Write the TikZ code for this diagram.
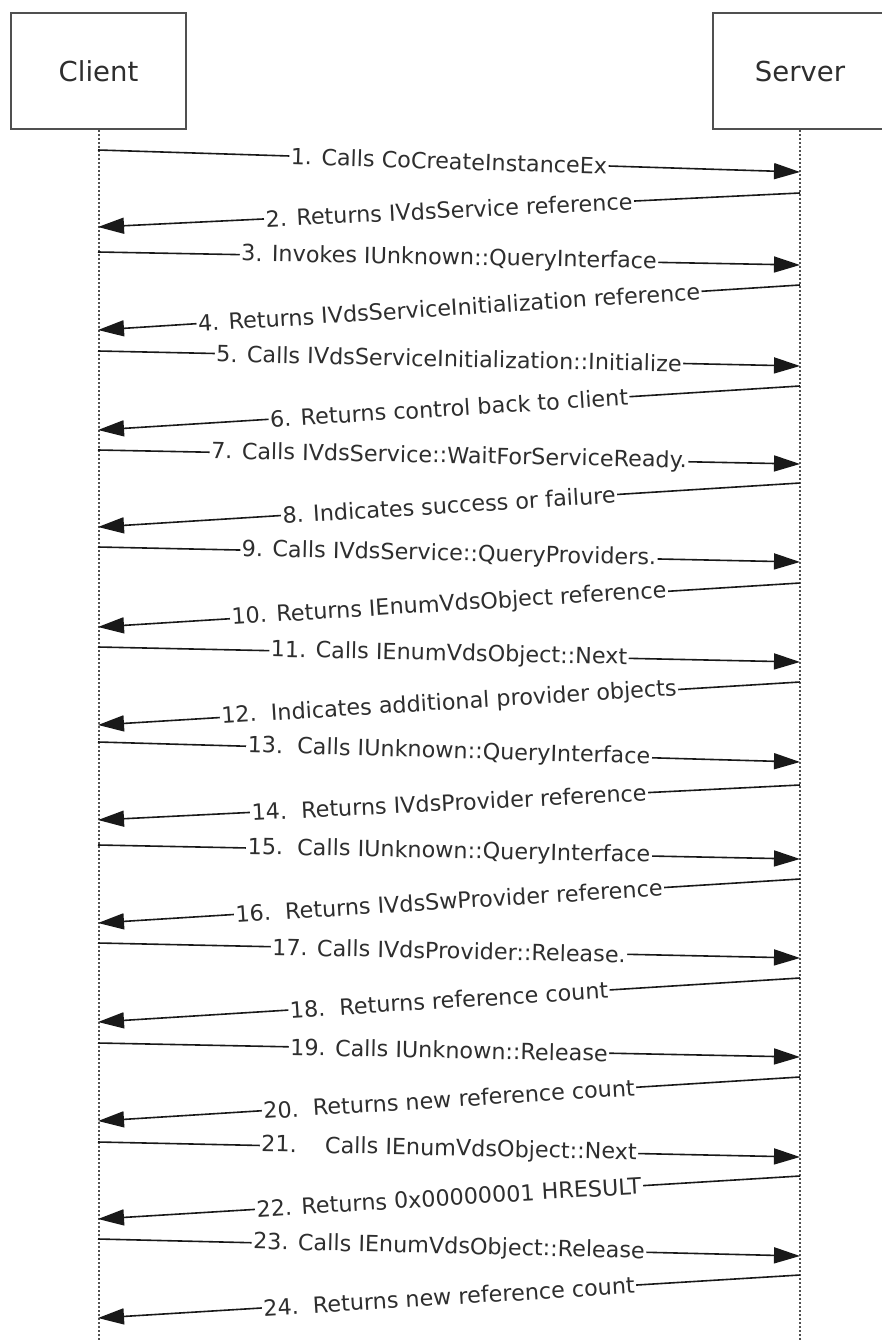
\documentclass[tikz,border=0pt]{standalone}
\usepackage{fontspec}
\setmainfont{DejaVu Sans}
\usetikzlibrary{arrows.meta}
\definecolor{boxgray}{HTML}{505050}
\definecolor{txtgray}{HTML}{2E2E2E}

\begin{document}
\begin{tikzpicture}
[
x=1pt, y=-1pt,
actor/.style={draw=boxgray,line width=2pt,minimum width=175pt,minimum height=116pt,inner sep=0pt,
              text=txtgray,font=\fontsize{27.5}{32}\selectfont},
lifeline/.style={draw=boxgray,line width=2pt,dash pattern=on 2pt off 2pt},
msg/.style={draw=black!90,line width=1.6pt,-{Triangle[length=26pt,width=16pt]}},
lbl/.style={sloped,fill=white,inner sep=1.5pt,text=txtgray,font=\fontsize{22.3}{26}\selectfont},
]
\useasboundingbox (0,0) rectangle (882,1340);
\clip (0,0) rectangle (882,1340);

%Place the participants
\node[actor] (client) at (98.5,71) {Client};
\node[actor] (server) at (800,71) {Server};
\coordinate (cend) at (98.5,1340);
\coordinate (send) at (800,1340);
\draw[lifeline] (client.south) -- (cend);
\draw[lifeline] (server.south) -- (send);

%Place the end points on the lifelines
\coordinate (c1) at (98,150);   \coordinate (s1) at (800,172);
\coordinate (c2) at (98,227);   \coordinate (s2) at (800,193);
\coordinate (c3) at (98,252);   \coordinate (s3) at (800,265);
\coordinate (c4) at (98,330);   \coordinate (s4) at (800,285);
\coordinate (c5) at (98,351);   \coordinate (s5) at (800,366);
\coordinate (c6) at (98,430);   \coordinate (s6) at (800,386);
\coordinate (c7) at (98,450);   \coordinate (s7) at (800,464);
\coordinate (c8) at (98,527);   \coordinate (s8) at (800,483);
\coordinate (c9) at (98,547);   \coordinate (s9) at (800,562);
\coordinate (c10) at (98,627);  \coordinate (s10) at (800,583);
\coordinate (c11) at (98,647);  \coordinate (s11) at (800,662);
\coordinate (c12) at (98,725);  \coordinate (s12) at (800,682);
\coordinate (c13) at (98,742);  \coordinate (s13) at (800,762);
\coordinate (c14) at (98,820);  \coordinate (s14) at (800,785);
\coordinate (c15) at (98,845);  \coordinate (s15) at (800,859);
\coordinate (c16) at (98,923);  \coordinate (s16) at (800,879);
\coordinate (c17) at (98,943);  \coordinate (s17) at (800,958);
\coordinate (c18) at (98,1022); \coordinate (s18) at (800,978);
\coordinate (c19) at (98,1043); \coordinate (s19) at (800,1057);
\coordinate (c20) at (98,1121); \coordinate (s20) at (800,1077);
\coordinate (c21) at (98,1142); \coordinate (s21) at (800,1157);
\coordinate (c22) at (98,1219); \coordinate (s22) at (800,1176);
\coordinate (c23) at (98,1239); \coordinate (s23) at (800,1256);
\coordinate (c24) at (98,1318); \coordinate (s24) at (800,1275);

%Draw the messages
\draw[msg] (c1) -- node[lbl] {1. Calls CoCreateInstanceEx} (s1);
\draw[msg] (s2) -- node[lbl] {2. Returns IVdsService reference} (c2);
\draw[msg] (c3) -- node[lbl] {3. Invokes IUnknown::QueryInterface} (s3);
\draw[msg] (s4) -- node[lbl] {4. Returns IVdsServiceInitialization reference} (c4);
\draw[msg] (c5) -- node[lbl] {5. Calls IVdsServiceInitialization::Initialize} (s5);
\draw[msg] (s6) -- node[lbl] {6. Returns control back to client} (c6);
\draw[msg] (c7) -- node[lbl] {7. Calls IVdsService::WaitForServiceReady.} (s7);
\draw[msg] (s8) -- node[lbl] {8. Indicates success or failure} (c8);
\draw[msg] (c9) -- node[lbl] {9. Calls IVdsService::QueryProviders.} (s9);
\draw[msg] (s10) -- node[lbl] {10. Returns IEnumVdsObject reference} (c10);
\draw[msg] (c11) -- node[lbl] {11. Calls IEnumVdsObject::Next} (s11);
\draw[msg] (s12) -- node[lbl] {12.\ \ Indicates additional provider objects} (c12);
\draw[msg] (c13) -- node[lbl] {13.\ \ Calls IUnknown::QueryInterface} (s13);
\draw[msg] (s14) -- node[lbl] {14.\ \ Returns IVdsProvider reference} (c14);
\draw[msg] (c15) -- node[lbl] {15.\ \ Calls IUnknown::QueryInterface} (s15);
\draw[msg] (s16) -- node[lbl] {16.\ \ Returns IVdsSwProvider reference} (c16);
\draw[msg] (c17) -- node[lbl] {17. Calls IVdsProvider::Release.} (s17);
\draw[msg] (s18) -- node[lbl] {18.\ \ Returns reference count} (c18);
\draw[msg] (c19) -- node[lbl] {19. Calls IUnknown::Release} (s19);
\draw[msg] (s20) -- node[lbl] {20.\ \ Returns new reference count} (c20);
\draw[msg] (c21) -- node[lbl] {21.\ \ \ \ Calls IEnumVdsObject::Next} (s21);
\draw[msg] (s22) -- node[lbl] {22. Returns 0x00000001 HRESULT} (c22);
\draw[msg] (c23) -- node[lbl] {23. Calls IEnumVdsObject::Release} (s23);
\draw[msg] (s24) -- node[lbl] {24.\ \ Returns new reference count} (c24);
\end{tikzpicture}
\end{document}
